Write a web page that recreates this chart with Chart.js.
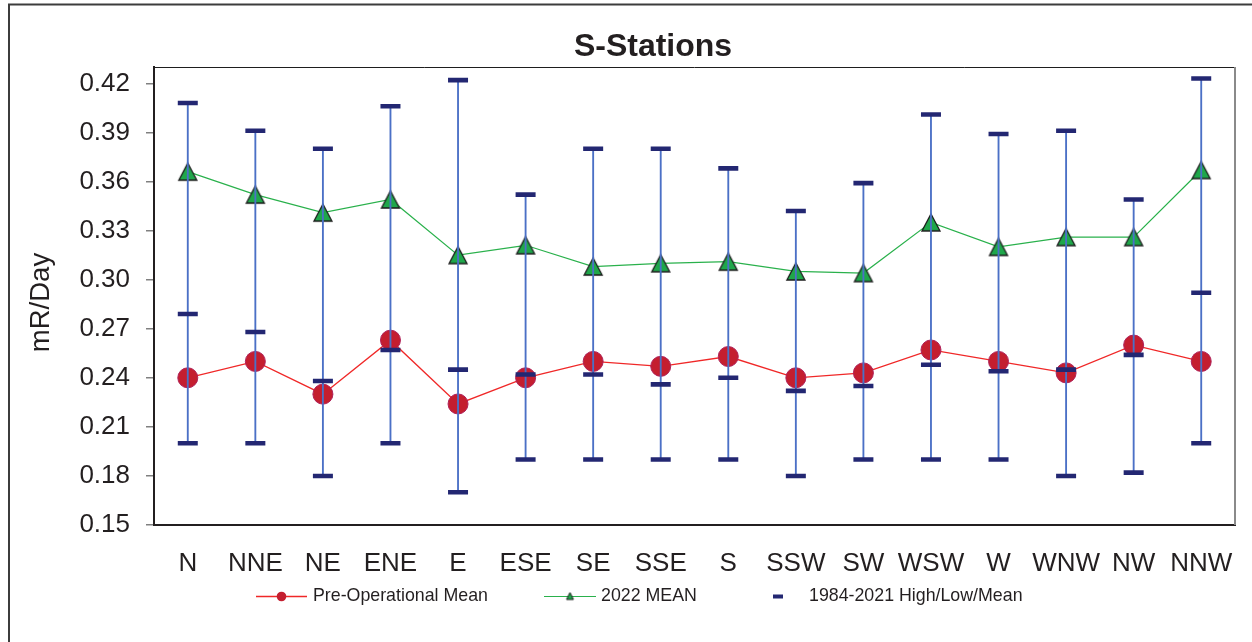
<!DOCTYPE html>
<html>
<head>
<meta charset="utf-8">
<title>S-Stations</title>
<script src="https://cdn.jsdelivr.net/npm/chart.js@4/dist/chart.umd.min.js"></script>
<style>
  html, body { margin: 0; padding: 0; background: #fff; }
  #wrap { position: relative; width: 1252px; height: 642px; }
</style>
</head>
<body>
<div id="wrap"><canvas id="chart" width="1252" height="642"></canvas></div>
<script>
// Sector labels around the site
const directions = ['N', 'NNE', 'NE', 'ENE', 'E', 'ESE', 'SE', 'SSE', 'S', 'SSW', 'SW', 'WSW', 'W', 'WNW', 'NW', 'NNW'];

// Dose rates, mR/Day
const preOpMean = [0.240, 0.250, 0.230, 0.263, 0.224, 0.240, 0.250, 0.247, 0.253, 0.240, 0.243, 0.257, 0.250, 0.243, 0.260, 0.250];
const mean2022  = [0.366, 0.352, 0.341, 0.349, 0.315, 0.321, 0.308, 0.310, 0.311, 0.305, 0.304, 0.335, 0.320, 0.326, 0.326, 0.367];
const histHigh  = [0.408, 0.391, 0.380, 0.406, 0.422, 0.352, 0.380, 0.380, 0.368, 0.342, 0.359, 0.401, 0.389, 0.391, 0.349, 0.423];
const histLow   = [0.200, 0.200, 0.180, 0.200, 0.170, 0.190, 0.190, 0.190, 0.190, 0.180, 0.190, 0.190, 0.190, 0.180, 0.182, 0.200];
const histMean  = [0.279, 0.268, 0.238, 0.257, 0.245, 0.242, 0.242, 0.236, 0.240, 0.232, 0.235, 0.248, 0.244, 0.245, 0.254, 0.292];

// Value axis tick labels
const yTickValues = [0.15, 0.18, 0.21, 0.24, 0.27, 0.30, 0.33, 0.36, 0.39, 0.42];

const FONT = '"Liberation Sans", Arial, Helvetica, sans-serif';
const INK = '#231f20';
const NAVY = '#232772';
const RANGE_BLUE = '#4b70c6';
const RED_LINE = '#f02828';
const RED_FILL = '#c41e2f';
const RED_EDGE = '#b0225a';
const GREEN_LINE = '#2ab14c';
const GREEN_FILL = '#1fa74a';

// Upright triangle marker, centred on its bounding box
function triangleMarker(w, h, fill, stroke, lw) {
  const pad = 2;
  const c = document.createElement('canvas');
  c.width = w + pad * 2;
  c.height = h + pad * 2;
  const g = c.getContext('2d');
  g.beginPath();
  g.moveTo(pad + w / 2, pad);
  g.lineTo(pad + w, pad + h);
  g.lineTo(pad, pad + h);
  g.closePath();
  g.fillStyle = fill;
  g.fill();
  g.lineWidth = lw;
  g.strokeStyle = stroke;
  g.lineJoin = 'miter';
  g.stroke();
  return c;
}
const triangle = triangleMarker(18, 17, GREEN_FILL, '#1c1c1c', 1.3);

// Page frame, plot frame, titles and legend
const decorations = {
  id: 'decorations',
  beforeDraw(chart) {
    const ctx = chart.ctx;
    ctx.save();
    ctx.fillStyle = '#fff';
    ctx.fillRect(0, 0, chart.width, chart.height);
    ctx.strokeStyle = '#3c3c3c';
    ctx.lineWidth = 2;
    ctx.beginPath();
    ctx.moveTo(9, chart.height);
    ctx.lineTo(9, 4.5);
    ctx.lineTo(chart.width, 4.5);
    ctx.stroke();
    ctx.restore();
  },
  beforeDatasetsDraw(chart) {
    const { ctx, chartArea: a } = chart;
    ctx.save();
    ctx.strokeStyle = '#1e1e1e';
    ctx.lineWidth = 1;
    ctx.beginPath();
    ctx.moveTo(a.left, a.top + 0.5);
    ctx.lineTo(a.right, a.top + 0.5);
    ctx.stroke();
    ctx.strokeStyle = '#8a8a8a';
    ctx.lineWidth = 2;
    ctx.beginPath();
    ctx.moveTo(a.right, a.top);
    ctx.lineTo(a.right, a.bottom);
    ctx.stroke();
    ctx.restore();
  },
  afterDraw(chart) {
    const ctx = chart.ctx;
    ctx.save();
    ctx.fillStyle = INK;
    ctx.textBaseline = 'middle';

    // chart title
    ctx.textAlign = 'center';
    ctx.font = 'bold 32px ' + FONT;
    ctx.fillText('S-Stations', 653, 47.6);

    // value axis title
    ctx.save();
    ctx.translate(41, 302.5);
    ctx.rotate(-Math.PI / 2);
    ctx.font = '27.5px ' + FONT;
    ctx.fillText('mR/Day', 0, 0);
    ctx.restore();

    // legend
    const ly = 596.5;
    ctx.font = '17.8px ' + FONT;
    ctx.textAlign = 'left';

    ctx.strokeStyle = RED_LINE;
    ctx.lineWidth = 1.3;
    ctx.beginPath(); ctx.moveTo(256, ly); ctx.lineTo(307, ly); ctx.stroke();
    ctx.fillStyle = RED_FILL;
    ctx.beginPath(); ctx.arc(281.5, ly, 4.8, 0, Math.PI * 2); ctx.fill();
    ctx.fillStyle = INK;
    ctx.fillText('Pre-Operational Mean', 313, ly);

    ctx.strokeStyle = GREEN_LINE;
    ctx.lineWidth = 1.2;
    ctx.beginPath(); ctx.moveTo(544, ly); ctx.lineTo(596, ly); ctx.stroke();
    ctx.drawImage(triangleMarker(7, 7, GREEN_FILL, '#1c1c1c', 1), 570 - 5.5, ly - 6);
    ctx.fillStyle = INK;
    ctx.fillText('2022 MEAN', 601, ly);

    ctx.fillStyle = NAVY;
    ctx.fillRect(773, ly - 2, 10, 4);
    ctx.fillStyle = INK;
    ctx.fillText('1984-2021 High/Low/Mean', 809, ly);
    ctx.restore();
  }
};

const capStyle = {
  type: 'line',
  showLine: false,
  pointStyle: 'line',
  pointRadius: 10,
  pointHoverRadius: 10,
  pointBorderWidth: 4.6,
  pointBorderColor: NAVY,
  borderColor: NAVY,
  order: 0
};

new Chart(document.getElementById('chart'), {
  type: 'line',
  data: {
    labels: directions,
    datasets: [
      Object.assign({ label: '1984-2021 High', data: histHigh }, capStyle),
      Object.assign({ label: '1984-2021 Low', data: histLow }, capStyle),
      Object.assign({ label: '1984-2021 Mean', data: histMean }, capStyle),
      {
        type: 'bar',
        label: '1984-2021 Range',
        data: histLow.map((lo, i) => [lo, histHigh[i]]),
        backgroundColor: RANGE_BLUE,
        borderWidth: 0,
        barThickness: 1.2,
        order: 1
      },
      {
        type: 'line',
        label: '2022 MEAN',
        data: mean2022,
        borderColor: GREEN_LINE,
        borderWidth: 1.2,
        pointStyle: triangle,
        pointRadius: 10,
        pointHoverRadius: 10,
        order: 2
      },
      {
        type: 'line',
        label: 'Pre-Operational Mean',
        data: preOpMean,
        borderColor: RED_LINE,
        borderWidth: 1.3,
        pointStyle: 'circle',
        pointRadius: 10,
        pointHoverRadius: 10,
        pointBackgroundColor: RED_FILL,
        pointBorderColor: RED_EDGE,
        pointBorderWidth: 1,
        order: 3
      }
    ]
  },
  options: {
    responsive: false,
    devicePixelRatio: 1,
    animation: false,
    events: [],
    layout: { padding: { top: 67, right: 17, bottom: 0, left: 0 } },
    plugins: {
      legend: { display: false },
      title: { display: false },
      tooltip: { enabled: false }
    },
    scales: {
      x: {
        type: 'category',
        offset: true,
        grid: { display: false },
        border: { display: true, color: INK, width: 2 },
        ticks: {
          color: INK,
          font: { family: FONT, size: 26 },
          padding: 15.4,
          maxRotation: 0,
          autoSkip: false
        },
        afterFit(scale) { scale.height = 117; }
      },
      y: {
        min: 0.15,
        max: 0.43,
        grid: {
          drawOnChartArea: false,
          drawTicks: true,
          tickLength: 8,
          color: '#808080',
          lineWidth: 1.5
        },
        border: { display: true, color: INK, width: 2 },
        ticks: {
          color: INK,
          font: { family: FONT, size: 26 },
          padding: 16,
          callback: (v) => Number(v).toFixed(2)
        },
        afterBuildTicks(scale) {
          scale.ticks = yTickValues.map((v) => ({ value: v }));
        },
        afterFit(scale) { scale.width = 154; }
      }
    }
  },
  plugins: [decorations]
});
</script>
</body>
</html>
